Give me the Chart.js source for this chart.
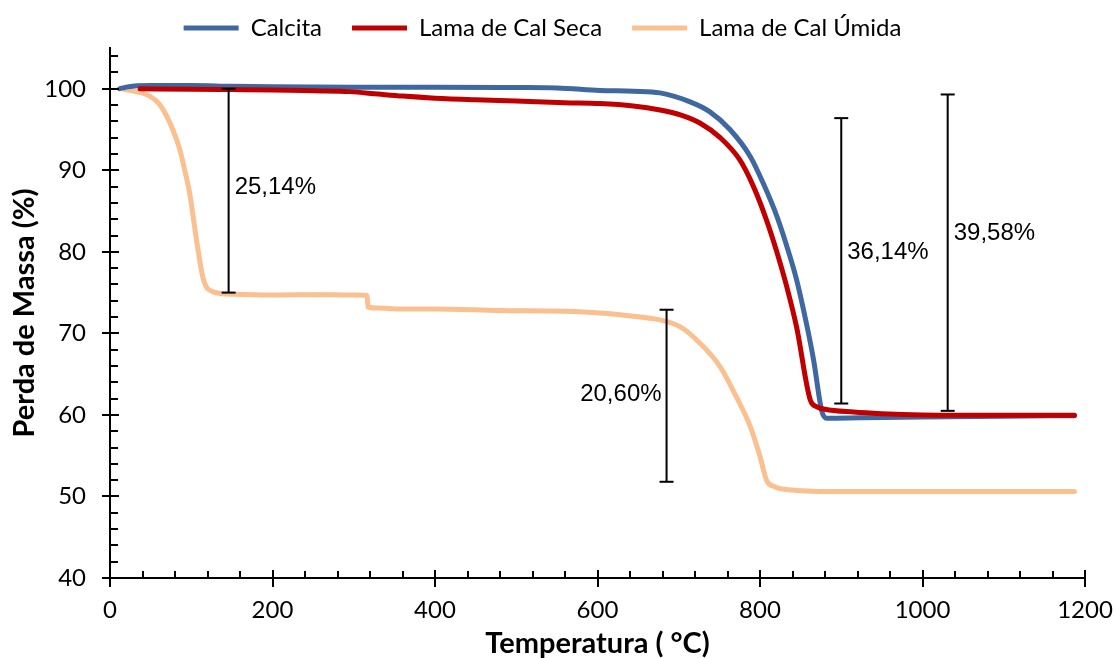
<!DOCTYPE html>
<html lang="pt">
<head>
<meta charset="utf-8">
<title>Perda de Massa x Temperatura</title>
<script src="https://cdn.jsdelivr.net/npm/chart.js@4.4.1/dist/chart.umd.min.js"></script>
<style>
  html, body { margin: 0; padding: 0; background: #fff; }
  #wrap { width: 1114px; height: 658px; }
</style>
</head>
<body>
<div id="wrap"><canvas id="chartTG"></canvas></div>
<script>
"use strict";

// Curvas TG (temperatura em °C, massa em %)
var tempCalcita  = [12, 20, 30, 50, 100, 150, 200, 300, 400, 500, 550, 603, 644, 677, 714, 738, 763, 788, 804, 821, 833, 845, 858, 866, 876, 882, 923, 1000, 1100, 1187];
var massaCalcita = [100.0, 100.2, 100.35, 100.4, 100.4, 100.3, 100.25, 100.2, 100.2, 100.15, 100.1, 99.8, 99.7, 99.5, 98.4, 97.2, 95.0, 91.7, 88.4, 84.3, 80.7, 76.6, 70.8, 66.7, 60.5, 59.6, 59.65, 59.75, 59.85, 59.9];

var tempSeca  = [37, 100, 150, 200, 250, 295, 330, 360, 400, 450, 500, 560, 603, 644, 677, 702, 726, 751, 775, 792, 808, 821, 833, 845, 862, 870, 880, 915, 950, 1000, 1100, 1187];
var massaSeca = [100.0, 99.95, 99.9, 99.85, 99.75, 99.65, 99.35, 99.1, 98.85, 98.65, 98.5, 98.3, 98.2, 97.9, 97.4, 96.8, 95.8, 94.0, 91.3, 88.0, 83.9, 79.9, 75.7, 70.8, 61.8, 61.0, 60.7, 60.35, 60.15, 60.0, 59.95, 59.95];

var tempUmida  = [18, 30, 49, 60, 70, 80, 86, 92, 98, 107, 115, 127, 152, 200, 250, 300, 316, 318, 330, 357, 400, 480, 560, 603, 644, 677, 702, 726, 751, 771, 788, 800, 808, 818, 840, 900, 1000, 1100, 1187];
var massaUmida = [99.9, 99.7, 99.1, 98.2, 96.6, 94.3, 92.5, 90.0, 87.2, 81.1, 76.6, 75.1, 74.8, 74.7, 74.75, 74.7, 74.65, 73.2, 73.1, 73.0, 73.0, 72.8, 72.7, 72.5, 72.1, 71.65, 70.8, 68.8, 65.9, 62.2, 58.6, 54.9, 52.0, 51.2, 50.8, 50.6, 50.6, 50.6, 50.6];

// Barras de perda de massa
var barraTemp   = [146, 685, 900, 1031];
var barraTopo   = [100.0, 72.9, 96.4, 99.3];
var barraBase   = [75.0, 51.8, 61.4, 60.5];
var barraRotulo = ['25,14%', '20,60%', '36,14%', '39,58%'];
var rotuloMassa = [87.9, 62.5, 79.9, 82.3];
var rotuloLado  = ['right', 'left', 'right', 'right'];

var ticksX = [0, 200, 400, 600, 800, 1000, 1200];
var ticksY = [40, 50, 60, 70, 80, 90, 100];

function pontos(xs, ys) {
  return xs.map(function (x, i) { return { x: x, y: ys[i] }; });
}

function serie(label, xs, ys, cor, ordem) {
  return {
    label: label,
    data: pontos(xs, ys),
    borderColor: cor,
    backgroundColor: cor,
    borderWidth: 5,
    borderCapStyle: 'round',
    borderJoinStyle: 'round',
    pointRadius: 0,
    cubicInterpolationMode: 'monotone',
    order: ordem
  };
}

var datasets = [
  serie('Calcita', tempCalcita, massaCalcita, '#3F68A0', 2),
  serie('Lama de Cal Seca', tempSeca, massaSeca, '#C00000', 1),
  serie('Lama de Cal Úmida', tempUmida, massaUmida, '#FAC08F', 3)
];

barraTemp.forEach(function (t, i) {
  datasets.push({
    label: '',
    data: [{ x: t, y: barraTopo[i] }, { x: t, y: barraBase[i] }],
    borderColor: '#000',
    borderWidth: 2,
    pointStyle: 'line',
    pointRadius: 7,
    pointBorderWidth: 2,
    pointBorderColor: '#000',
    order: 0
  });
});

// marcas de eixo (maiores cruzam o eixo, menores só para dentro) e rótulos das barras
var marcasEixos = {
  id: 'marcasEixos',
  afterDatasetsDraw: function (chart) {
    var ctx = chart.ctx, sx = chart.scales.x, sy = chart.scales.y;
    var y0 = sy.bottom, x0 = sx.left, v, p;
    ctx.save();
    ctx.strokeStyle = '#000';
    ctx.lineWidth = 2;
    ctx.beginPath();
    for (v = 0; v <= 1200; v += 40) {
      p = Math.round(sx.getPixelForValue(v));
      if (ticksX.indexOf(v) >= 0) { ctx.moveTo(p, y0 - 8); ctx.lineTo(p, y0 + 9); }
      else { ctx.moveTo(p, y0 - 7); ctx.lineTo(p, y0); }
    }
    for (v = 40; v <= 104; v += 2) {
      p = Math.round(sy.getPixelForValue(v));
      if (ticksY.indexOf(v) >= 0) { ctx.moveTo(x0 - 8, p); ctx.lineTo(x0 + 9, p); }
      else { ctx.moveTo(x0, p); ctx.lineTo(x0 + 8, p); }
    }
    ctx.stroke();

    ctx.fillStyle = '#000';
    ctx.font = "24px 'Liberation Sans', Arial, sans-serif";
    ctx.textBaseline = 'middle';
    barraRotulo.forEach(function (txt, i) {
      var bx = sx.getPixelForValue(barraTemp[i]);
      var by = sy.getPixelForValue(rotuloMassa[i]);
      if (rotuloLado[i] === 'left') { ctx.textAlign = 'right'; ctx.fillText(txt, bx - 5, by); }
      else { ctx.textAlign = 'left'; ctx.fillText(txt, bx + 6, by); }
    });
    ctx.restore();
  }
};

new Chart(document.getElementById('chartTG'), {
  type: 'line',
  data: { datasets: datasets },
  plugins: [marcasEixos],
  options: {
    responsive: true,
    maintainAspectRatio: false,
    animation: false,
    layout: { padding: { left: 0, right: 29, top: -14, bottom: 0 } },
    plugins: {
      tooltip: { enabled: false },
      legend: {
        position: 'top',
        maxHeight: 62,
        labels: {
          color: '#000',
          font: { family: 'Lato', size: 24 },
          usePointStyle: true,
          pointStyle: 'line',
          pointStyleWidth: 55,
          padding: 30,
          filter: function (item) { return item.text !== ''; },
          sort: function (a, b) { return a.datasetIndex - b.datasetIndex; }
        }
      }
    },
    scales: {
      x: {
        type: 'linear',
        min: 0,
        max: 1200,
        afterFit: function (s) { s.height = 80; s.paddingLeft = 0; s.paddingRight = 0; },
        grid: { display: false, drawTicks: false },
        border: { display: true, color: '#000', width: 2 },
        ticks: {
          stepSize: 200,
          padding: 18,
          color: '#000',
          font: { family: 'Lato', size: 24 },
          callback: function (v) { return String(v); }
        },
        title: {
          display: true,
          text: 'Temperatura ( °C)',
          color: '#000',
          font: { family: 'Lato', size: 29, weight: 'bold', lineHeight: 1.0 },
          padding: { top: 0, bottom: 0 }
        }
      },
      y: {
        type: 'linear',
        min: 40,
        max: 105,
        afterFit: function (s) { s.width = 110; s.paddingTop = 0; s.paddingBottom = 0; },
        grid: { display: false, drawTicks: false },
        border: { display: true, color: '#000', width: 2 },
        ticks: {
          stepSize: 10,
          padding: 24,
          color: '#000',
          font: { family: 'Lato', size: 24 },
          callback: function (v) { return ticksY.indexOf(v) >= 0 ? String(v) : ''; }
        },
        title: {
          display: true,
          text: 'Perda de Massa (%)',
          color: '#000',
          font: { family: 'Lato', size: 29, weight: 'bold', lineHeight: 1.0 },
          padding: { top: 10, bottom: 0 }
        }
      }
    }
  }
});
</script>
</body>
</html>
